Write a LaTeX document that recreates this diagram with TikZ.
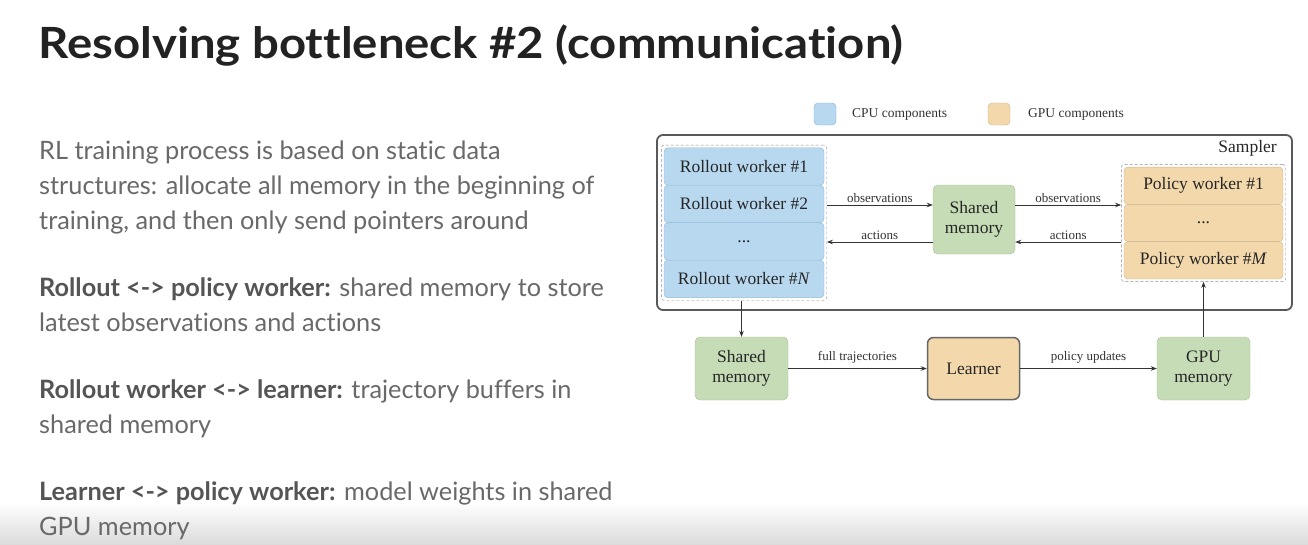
\documentclass[tikz,border=0pt]{standalone}
\usepackage{fontspec}
\setmainfont{Liberation Serif}
\newfontfamily\lato[Ligatures=NoCommon]{Lato}
\usetikzlibrary{arrows.meta,fit}
\definecolor{cpu}{HTML}{B8D8EF}
\definecolor{cpuborder}{HTML}{8DB4D4}
\definecolor{gpu}{HTML}{F3D8AB}
\definecolor{gpuborder}{HTML}{CDB68E}
\definecolor{mem}{HTML}{C6DCB6}
\definecolor{memborder}{HTML}{A8C098}
\definecolor{bodygray}{HTML}{696969}
\definecolor{boldgray}{HTML}{555555}
\definecolor{titlegray}{HTML}{222222}
\tikzset{
  body/.style={anchor=base west, inner sep=0pt, text=bodygray, font=\lato\fontsize{25.3}{30}\selectfont},
  boxtext/.style={font=\fontsize{17.5}{20}\selectfont, text=black!85},
  cpubox/.style={boxtext, draw=cpuborder, fill=cpu, rounded corners=4pt, minimum width=160pt, minimum height=37.5pt, inner sep=0pt},
  gpubox/.style={boxtext, draw=gpuborder, fill=gpu, rounded corners=4pt, minimum width=159pt, minimum height=37.3pt, inner sep=0pt},
  membox/.style={boxtext, draw=memborder, fill=mem, rounded corners=5pt, minimum width=93pt, minimum height=63pt, inner sep=0pt, align=center},
  grp/.style={draw=black!45, dash pattern=on 3pt off 2pt, rounded corners=3pt, inner sep=2.5pt},
  conn/.style={draw=black!80, line width=0.8pt, -{Stealth[length=6pt,width=4.5pt]}},
  lbl/.style={font=\fontsize{13}{15}\selectfont, text=black!80, inner sep=2pt},
  legsq/.style={rounded corners=4pt, minimum width=22pt, minimum height=22pt, inner sep=0pt},
  legtext/.style={anchor=west, font=\fontsize{13.5}{15}\selectfont, text=black!80, inner sep=0pt}
}
\begin{document}
\begin{tikzpicture}[x=1pt,y=-1pt]
\useasboundingbox[fill=white] (0,0) rectangle (1308,544);
\shade[top color=white, bottom color=black!14] (0,502) rectangle (1308,544);

% title
\node[anchor=base west, inner sep=0pt, text=titlegray, font=\lato\bfseries\fontsize{43}{48}\selectfont] (title) at (38,58) {\scalebox{1.1}[1]{Resolving bottleneck \#2 (communication)}};

% body text
\node[body] (t1) at (39,159) {RL training process is based on static data};
\node[body] (t2) at (39,194) {structures: allocate all memory in the beginning of};
\node[body] (t3) at (39,229) {training, and then only send pointers around};
\node[body] (t4) at (39,296) {{\bfseries\color{boldgray}Rollout <-> policy worker:} shared memory to store};
\node[body] (t5) at (39,331) {latest observations and actions};
\node[body] (t6) at (39,398) {{\bfseries\color{boldgray}Rollout worker <-> learner:} trajectory buffers in};
\node[body] (t7) at (39,433) {shared memory};
\node[body] (t8) at (39,500) {{\bfseries\color{boldgray}Learner <-> policy worker:} model weights in shared};
\node[body] (t9) at (39,535) {GPU memory};

% legend
\node[legsq, fill=cpu, draw=cpuborder] (lc) at (825,114) {};
\node[legtext] (lct) at (852,114) {CPU components};
\node[legsq, fill=gpu, draw=gpuborder] (lg) at (999,114) {};
\node[legtext] (lgt) at (1028,114) {GPU components};

% sampler
\node[draw=black!65, line width=1.8pt, rounded corners=6pt, minimum width=635pt, minimum height=175pt, inner sep=0pt] (samp) at (974.5,222.5) {};
\node[boxtext, anchor=east, inner sep=0pt] (sampl) at (1277,148) {Sampler};

% rollout workers
\node[cpubox] (r1) at (744,166.5) {Rollout worker $\#$1};
\node[cpubox] (r2) at (744,204) {Rollout worker $\#$2};
\node[cpubox] (r3) at (744,241.5) {...};
\node[cpubox] (r4) at (744,279) {Rollout worker $\#$\textit{N}};
\node[grp, fit=(r1)(r4)] (rg) {};

% policy workers
\node[gpubox] (p1) at (1203.5,185.7) {Policy worker $\#$1};
\node[gpubox] (p2) at (1203.5,223) {...};
\node[gpubox] (p3) at (1203.5,260.3) {Policy worker $\#$\textit{M}};
\node[grp, fit=(p1)(p3)] (pg) {};

% shared memory (top)
\node[membox, minimum width=82pt, minimum height=69pt] (sm1) at (974,219.5) {Shared\\memory};

% bottom row
\node[membox] (sm2) at (741.5,368.5) {Shared\\memory};
\node[boxtext, draw=black!60, line width=1.5pt, fill=gpu, rounded corners=6pt, minimum width=92pt, minimum height=62pt, inner sep=0pt] (learner) at (973.5,368.5) {Learner};
\node[membox] (gpum) at (1203.5,368.5) {GPU\\memory};

% connectors
\draw[conn] (rg.east |- 0,205) -- node[lbl, above] {observations} (sm1.west |- 0,205);
\draw[conn] (sm1.west |- 0,242) -- node[lbl, above] {actions} (rg.east |- 0,242);
\draw[conn] (sm1.east |- 0,205) -- node[lbl, above] {observations} (pg.west |- 0,205);
\draw[conn] (pg.west |- 0,242) -- node[lbl, above] {actions} (sm1.east |- 0,242);
\draw[conn] (rg.south -| sm2.north) -- (sm2.north);
\draw[conn] (sm2) -- node[lbl, above, yshift=3pt] {full trajectories} (learner);
\draw[conn] (learner) -- node[lbl, above, yshift=3pt] {policy updates} (gpum);
\draw[conn] (gpum.north) -- (pg.south -| gpum.north);
\end{tikzpicture}
\end{document}
